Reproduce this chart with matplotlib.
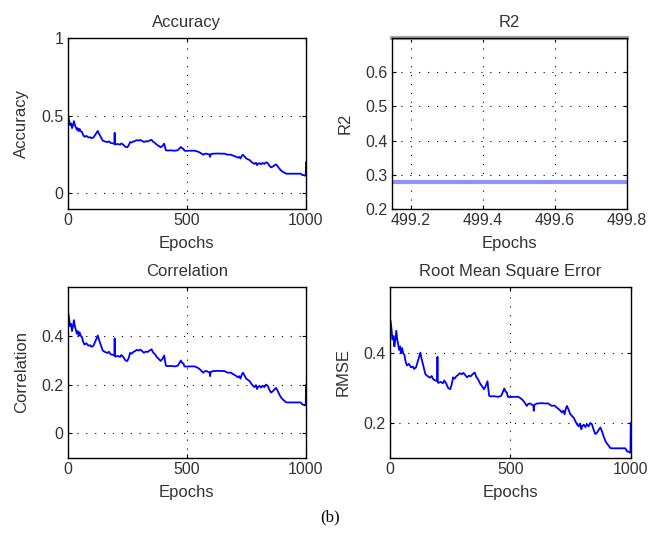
import matplotlib
matplotlib.use("Agg")
import matplotlib.pyplot as plt

plt.rcParams['font.family'] = ['Liberation Sans', 'DejaVu Sans']

epochs = [0, 3, 6, 10, 14, 18, 22, 26, 30, 34, 38, 42, 46, 50, 55, 60, 65, 70, 78, 87,
          95, 100, 108, 116, 121, 126, 131, 137, 142, 147, 155, 166, 173, 180, 190, 196,
          197, 198, 200, 210, 220, 225, 232, 242, 250, 256, 262, 268, 275, 283, 290, 298,
          305, 312, 320, 328, 335, 343, 352, 358, 366, 371, 376, 383, 390, 397, 405, 408,
          412, 420, 430, 440, 450, 462, 468, 475, 480, 485, 490, 500, 510, 520, 533, 540,
          548, 558, 568, 575, 582, 590, 596, 597, 600, 610, 620, 630, 640, 650, 658, 665,
          672, 683, 693, 700, 707, 714, 720, 725, 730, 735, 742, 749, 756, 763, 770, 777,
          784, 790, 795, 798, 805, 812, 818, 825, 832, 839, 846, 853, 860, 867, 874, 881,
          888, 895, 902, 909, 915, 922, 940, 960, 978, 985, 990, 995, 999, 1000]

metric_values = [0.50, 0.49, 0.47, 0.44, 0.45, 0.42, 0.44, 0.465, 0.44, 0.425, 0.41, 0.42,
                 0.40, 0.415, 0.40, 0.395, 0.375, 0.365, 0.37, 0.36, 0.362, 0.355, 0.36,
                 0.378, 0.39, 0.402, 0.385, 0.368, 0.355, 0.34, 0.335, 0.33, 0.335, 0.325,
                 0.322, 0.32, 0.39, 0.32, 0.315, 0.318, 0.314, 0.322, 0.315, 0.30, 0.297,
                 0.31, 0.331, 0.327, 0.334, 0.338, 0.343, 0.34, 0.344, 0.338, 0.331, 0.336,
                 0.334, 0.34, 0.345, 0.333, 0.325, 0.318, 0.311, 0.305, 0.297, 0.305, 0.32,
                 0.30, 0.278, 0.276, 0.277, 0.276, 0.275, 0.278, 0.288, 0.299, 0.29, 0.288,
                 0.275, 0.274, 0.275, 0.275, 0.275, 0.272, 0.268, 0.26, 0.249, 0.255, 0.256,
                 0.252, 0.25, 0.235, 0.252, 0.256, 0.256, 0.257, 0.256, 0.256, 0.256, 0.252,
                 0.249, 0.25, 0.244, 0.24, 0.236, 0.23, 0.235, 0.225, 0.24, 0.249, 0.238,
                 0.225, 0.22, 0.215, 0.205, 0.196, 0.19, 0.198, 0.182, 0.19, 0.195, 0.188,
                 0.196, 0.19, 0.2, 0.196, 0.18, 0.168, 0.172, 0.18, 0.187, 0.175, 0.16,
                 0.148, 0.14, 0.134, 0.128, 0.127, 0.127, 0.127, 0.127, 0.118, 0.118, 0.115,
                 0.115, 0.2]

accuracy = metric_values
correlation = metric_values
rmse = metric_values

r2_x = [499.146, 499.8]
r2_value = [0.28, 0.28]
r2_top = [0.7, 0.7]

fig = plt.figure(figsize=(6.48, 5.4), dpi=100)

FS = 12
TFS = 11.5
TXT = '#333333'

def style(ax, title, ylabel):
    ax.set_title(title, fontsize=FS, pad=8, color=TXT)
    ax.set_xlabel('Epochs', fontsize=FS, labelpad=6, color=TXT)
    ax.set_ylabel(ylabel, fontsize=FS, labelpad=9, color=TXT)
    ax.tick_params(direction='in', length=3, labelsize=TFS, top=True, right=True, pad=3,
                   labelcolor=TXT)
    ax.grid(True, color='black', linestyle=(0, (1, 7)), linewidth=0.8)
    for s in ax.spines.values():
        s.set_linewidth(1.0)

ax1 = fig.add_axes([0.1045, 0.613, 0.3677, 0.3166])
ax1.plot(epochs, accuracy, color='#0000ff', linewidth=1.3)
ax1.set_xlim(0, 1000)
ax1.set_ylim(-0.1, 1)
ax1.set_xticks([0, 500, 1000])
ax1.set_yticks([0, 0.5, 1])
ax1.set_yticklabels(['0', '0.5', '1'])
style(ax1, 'Accuracy', 'Accuracy')

ax2 = fig.add_axes([0.6045, 0.613, 0.3627, 0.3166])
ax2.plot(r2_x, r2_value, color='#9090ff', linewidth=3.0)
ax2.plot(r2_x, r2_top, color='#a8a8a8', linewidth=3.0, clip_on=False)
ax2.set_xlim(r2_x[0], r2_x[1])
ax2.set_ylim(0.2, 0.7)
ax2.set_xticks([499.2, 499.4, 499.6, 499.8])
ax2.set_xticklabels(['499.2', '499.4', '499.6', '499.8'])
ax2.set_yticks([0.2, 0.3, 0.4, 0.5, 0.6])
ax2.set_yticklabels(['0.2', '0.3', '0.4', '0.5', '0.6'])
style(ax2, 'R2', 'R2')

ax3 = fig.add_axes([0.1045, 0.1524, 0.3677, 0.3156])
ax3.plot(epochs, correlation, color='#0000ff', linewidth=1.3)
ax3.set_xlim(0, 1000)
ax3.set_ylim(-0.1, 0.6)
ax3.set_xticks([0, 500, 1000])
ax3.set_yticks([0, 0.2, 0.4])
ax3.set_yticklabels(['0', '0.2', '0.4'])
style(ax3, 'Correlation', 'Correlation')

ax4 = fig.add_axes([0.6019, 0.1524, 0.3714, 0.3156])
ax4.plot(epochs, rmse, color='#0000ff', linewidth=1.3)
ax4.set_xlim(0, 1000)
ax4.set_ylim(0.1, 0.59)
ax4.set_xticks([0, 500, 1000])
ax4.set_yticks([0.2, 0.4])
ax4.set_yticklabels(['0.2', '0.4'])
style(ax4, 'Root Mean Square Error', 'RMSE')

fig.text(0.509, 0.041, '(b)', ha='center', va='center', fontsize=12,
         family=['Liberation Serif', 'DejaVu Serif'])

fig.savefig('out.png', dpi=100)
